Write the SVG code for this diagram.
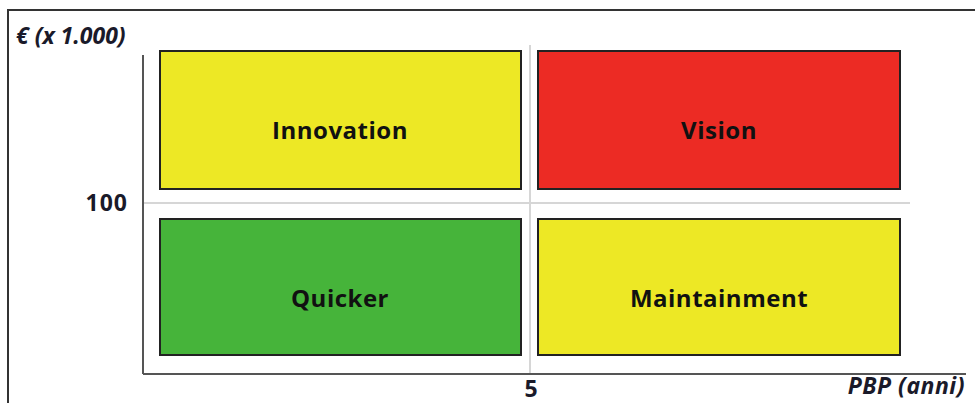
<svg xmlns="http://www.w3.org/2000/svg" width="975" height="403" viewBox="0 0 975 403">
<style>
.box{stroke:#222;stroke-width:2}
.lbl{font-family:"Open Sans","Liberation Sans",sans-serif;font-weight:bold;font-size:24px;letter-spacing:0.5px;fill:#111;text-anchor:middle}
.ax{font-family:"Open Sans","Liberation Sans",sans-serif;font-weight:bold;font-size:23px;fill:#1a1a2a}
.grid{stroke:#d6d6d6;stroke-width:2;fill:none}
.axis{stroke:#555;stroke-width:2;fill:none}
</style>
<rect x="0" y="0" width="975" height="403" fill="#fff"/>
<path d="M8,403 V10 H975" stroke="#333" stroke-width="2" fill="none"/>
<g id="connectors">
<line class="grid" x1="143" y1="203" x2="910" y2="203"/>
<line class="grid" x1="530" y1="45" x2="530" y2="374"/>
<line class="axis" x1="143" y1="55" x2="143" y2="374"/>
<line class="axis" x1="143" y1="374" x2="966" y2="374"/>
</g>
<g id="innovation"><rect class="box" x="160" y="51" width="361" height="138" fill="#ede825"/><text class="lbl" x="340" y="139">Innovation</text></g>
<g id="vision"><rect class="box" x="538" y="51" width="362" height="138" fill="#ec2b24"/><text class="lbl" x="719" y="139">Vision</text></g>
<g id="quicker"><rect class="box" x="160" y="219" width="361" height="136" fill="#46b43a"/><text class="lbl" x="340" y="307">Quicker</text></g>
<g id="maintainment"><rect class="box" x="538" y="219" width="362" height="136" fill="#ede825"/><text class="lbl" x="719" y="307">Maintainment</text></g>
<g id="axis-labels">
<text class="ax" x="16" y="44" font-style="italic">€ (x 1.000)</text>
<text class="ax" x="128" y="211" text-anchor="end" letter-spacing="1">100</text>
<text class="ax" x="531" y="397" text-anchor="middle">5</text>
<text class="ax" x="965" y="394" text-anchor="end" font-style="italic" letter-spacing="0.5">PBP (anni)</text>
</g>
</svg>
